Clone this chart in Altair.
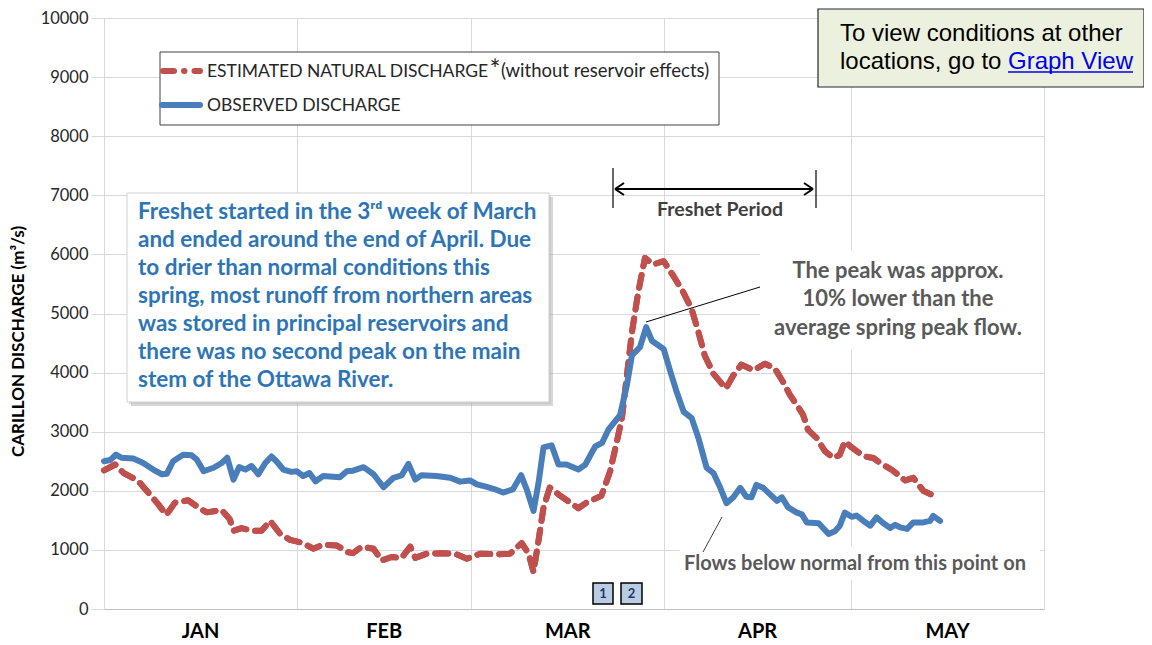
import altair as alt
import pandas as pd

# ---------------- data ----------------
# day = days since 1 January
obs_day = [0, 1, 1.9, 2.8, 4.7, 6.3, 7.9, 9.3, 10.1, 11.1, 12.7, 14.1, 14.9, 16, 17.6, 18.9, 19.8, 20.8, 21.7, 22.7,
           23.7, 24.8, 25.9, 26.9, 27.7, 28.8, 30.1, 31, 32, 33, 34, 35.2, 37.9, 39, 40, 41.7, 43.3, 44.9, 46.5, 47.8,
           48.9, 50, 51, 53.4, 55.6, 57.2, 58.8, 59.9, 61.5, 62.8, 64.1, 65.7, 67, 67.9, 69, 69.8, 70.6, 71.9, 73, 74.3,
           76.2, 77.3, 78.9, 80, 81, 82.9, 84, 84.8, 86.1, 87.1, 88, 89.9, 91, 92, 93.1, 94.4, 95.5, 96.8, 97.9, 99,
           100, 101.1, 102.2, 103.2, 104, 104.8, 105.9, 107, 108.1, 108.9, 109.9, 111.3, 112.1, 112.9, 114.8, 116.4,
           117.4, 118.2, 119, 120.1, 120.9, 122, 123.1, 124.1, 125.2, 126.3, 127.1, 127.9, 129, 130, 131.6, 132.7,
           133.2, 134.3]
obs_flow = [2500, 2520, 2610, 2560, 2545, 2470, 2360, 2280, 2290, 2500, 2610, 2600, 2530, 2330, 2390, 2470, 2560, 2190,
            2400, 2360, 2420, 2280, 2470, 2580, 2500, 2360, 2320, 2330, 2250, 2300, 2160, 2250, 2230, 2330, 2340, 2400,
            2280, 2060, 2220, 2260, 2455, 2190, 2265, 2250, 2220, 2155, 2175, 2110, 2065, 2025, 1970, 2025, 2265, 2025,
            1660, 2135, 2735, 2770, 2445, 2445, 2360, 2440, 2750, 2810, 3030, 3280, 3790, 4290, 4430, 4770, 4540, 4400,
            4010, 3670, 3340, 3230, 2890, 2390, 2300, 2050, 1790, 1890, 2050, 1900, 1890, 2100, 2050, 1940, 1830, 1890,
            1720, 1630, 1600, 1465, 1450, 1270, 1315, 1410, 1630, 1560, 1580, 1490, 1410, 1550, 1450, 1370, 1425, 1380,
            1355, 1465, 1465, 1490, 1575, 1490]

nat_day = [0, 1.8, 3.1, 5.5, 7.1, 8.7, 10, 11.4, 13.5, 15.2, 16.5, 18.9, 20.2, 20.8, 22.1, 23.7, 25.3, 26.7, 28.3, 29.9,
           32, 33.6, 35.2, 37.4, 39.2, 40, 41.4, 43.3, 44.6, 46.2, 47.8, 49.2, 50, 51.8, 54.2, 56.4, 58.3, 60.4, 63.1,
           65.2, 67.1, 68.2, 69, 69.8, 70.6, 71.6, 73.3, 74.9, 76.2, 77.5, 79.9, 81.3, 82.4, 83.2, 84, 84.8, 85.8, 86.9,
           88.2, 89.9, 91.5, 93.1, 94.4, 95.5, 96.5, 97.9, 99.9, 101.1, 102.4, 104.3, 106.2, 107.8, 109.1, 110.2, 111.3,
           112.3, 113.1, 114.5, 115.8, 117.2, 118.2, 119, 120.1, 122, 123.6, 124.9, 126.5, 128.7, 130, 131.6, 133.8]
nat_flow = [2345, 2445, 2305, 2165, 1970, 1775, 1590, 1800, 1840, 1715, 1635, 1675, 1520, 1325, 1370, 1325, 1325, 1490,
            1270, 1170, 1115, 1020, 1090, 1075, 960, 945, 1055, 1020, 820, 880, 865, 1055, 865, 935, 945, 935, 850, 935,
            925, 935, 1115, 935, 625, 1160, 1715, 2055, 1915, 1800, 1705, 1800, 1915, 2330, 2840, 3230, 3955, 4680,
            5350, 5940, 5830, 5885, 5630, 5350, 5075, 4680, 4290, 3980, 3730, 3955, 4135, 4040, 4150, 4065, 3840, 3620,
            3450, 3285, 3030, 2890, 2670, 2555, 2610, 2835, 2735, 2585, 2555, 2455, 2360, 2175, 2220, 2000, 1895]

months = ["JAN", "FEB", "MAR", "APR", "MAY"]
month_mid = [15.5, 45, 74.5, 105, 135.5]
month_edges = [0, 31, 59, 90, 120, 151]
y_ticks = list(range(0, 10001, 1000))

legend_est = "ESTIMATED NATURAL DISCHARGE"
legend_est_tail = "(without reservoir effects)"
legend_obs = "OBSERVED DISCHARGE"
freshet_lines = ["Freshet started in the 3ʳᵈ week of March",
                 "and ended around the end of April.  Due",
                 "to drier than normal conditions this",
                 "spring, most runoff from northern areas",
                 "was stored in principal reservoirs and",
                 "there was no second peak on the main",
                 "stem of the Ottawa River."]
peak_lines = ["The peak was approx.", "10% lower than the", "average spring peak flow."]
flows_text = "Flows below normal from this point on"
period_text = "Freshet Period"
link_lines = ["To view conditions at other", "locations, go to "]
link_text = "Graph View"

# ---------------- chart ----------------
TOP = 10           # plot top sits a little lower so the top tick label is not clipped
W, H = 940, 591
FONT = "Lato"
RED = "#C0504D"
BLUE = "#4A7EBB"
DASH = [13, 9]

obs = pd.DataFrame({"day": obs_day, "q": obs_flow})
nat = pd.DataFrame({"day": nat_day, "q": nat_flow})
mon = pd.DataFrame({"m": months, "day": month_mid})
one = pd.DataFrame({"k": [0]})

xs = alt.Scale(domain=[0, 151], nice=False, zero=False)
ys = alt.Scale(domain=[0, 10000], nice=False)

x_axis = alt.Axis(values=month_edges, labels=False, ticks=False, grid=True, gridColor="#D9D9D9",
                  domainColor="#BFBFBF", title=None)
y_axis = alt.Axis(values=y_ticks, format="d", grid=True, gridColor="#D9D9D9", tickColor="#D9D9D9", tickSize=13,
                  domainColor="#D9D9D9", labelFont=FONT, labelFontSize=16.5, labelColor="#262626", labelPadding=3,
                  title="CARILLON DISCHARGE (m³/s)", titleFont=FONT, titleFontSize=17, titleFontWeight="bold",
                  titleColor="#000000", titleX=-86, titleY=323, titleBaseline="middle")

X = alt.X("day:Q", scale=xs, axis=x_axis)
Y = alt.Y("q:Q", scale=ys, axis=y_axis)

# annotation positions are in pixels relative to the top-left of the reference plot area
OFF = 13 - 8 - TOP


def box(x1, x2, y1, y2, **kw):
    return alt.Chart(one).mark_rect(**kw).encode(x=alt.value(x1), x2=alt.value(x2),
                                                 y=alt.value(y1 + OFF), y2=alt.value(y2 + OFF))


def seg(x1, y1, x2, y2, **kw):
    return alt.Chart(one).mark_rule(**kw).encode(x=alt.value(x1), y=alt.value(y1 + OFF),
                                                 x2=alt.value(x2), y2=alt.value(y2 + OFF))


def txt(x, y, text, **kw):
    return alt.Chart(one).mark_text(text=text, **kw).encode(x=alt.value(x), y=alt.value(y + OFF))


nat_line = alt.Chart(nat).mark_line(color=RED, strokeWidth=6, strokeDash=DASH,
                                    strokeCap="round", strokeJoin="round").encode(x=X, y=Y)
obs_line = alt.Chart(obs).mark_line(color=BLUE, strokeWidth=6, strokeJoin="round", strokeCap="round").encode(x=X, y=Y)

month_text = alt.Chart(mon).mark_text(font=FONT, fontSize=20, fontWeight="bold", color="#000000",
                                      baseline="alphabetic").encode(x=X, y=alt.value(H + 29), text="m:N")

gray = "#595959"
layers = [
    nat_line,
    # white boxes behind annotations (hide grid)
    box(656, 940, 237, 337, fill="white"),
    box(576, 936, 534, 567, fill="white"),
    nat_line,
    obs_line,
    month_text,
    # legend
    box(56, 615, 39, 112, fill="white", stroke="#404040", strokeWidth=1),
    seg(59, 58, 96, 58, color=RED, strokeWidth=6, strokeDash=[11, 10, 0.5, 10], strokeCap="round"),
    seg(58, 92, 96, 92, color=BLUE, strokeWidth=6, strokeCap="round"),
    txt(103, 64, legend_est, font=FONT, fontSize=17.5, color="#262626", align="left", baseline="alphabetic"),
    txt(391, 66, "*", font=FONT, fontSize=26, color="#262626", align="center", baseline="alphabetic"),
    txt(397, 64, legend_est_tail, font=FONT, fontSize=18.5, color="#262626", align="left", baseline="alphabetic"),
    txt(103, 98, legend_obs, font=FONT, fontSize=17.5, color="#262626", align="left", baseline="alphabetic"),
    # freshet explanation box
    box(27, 449, 184, 393, fill="#A6A6A6", opacity=0.45),
    box(25, 447, 182, 391, fill="#BFBFBF", opacity=0.5),
    box(23, 445, 180, 389, fill="white", stroke="#D0D0D0", strokeWidth=1),
    txt(34, 206, freshet_lines, font=FONT, fontSize=22.5, fontWeight="bold", color="#2E75B6", align="left",
        baseline="alphabetic", lineHeight=27.95),
    # freshet period arrow
    seg(509, 155, 509, 195, color="#000000", strokeWidth=1.2),
    seg(712, 157, 712, 195, color="#000000", strokeWidth=1.2),
    seg(511, 176, 709, 176, color="#000000", strokeWidth=2),
    seg(511, 176, 520, 170, color="#000000", strokeWidth=2),
    seg(511, 176, 520, 182, color="#000000", strokeWidth=2),
    seg(709, 176, 700, 170, color="#000000", strokeWidth=2),
    seg(709, 176, 700, 182, color="#000000", strokeWidth=2),
    txt(616, 203, period_text, font=FONT, fontSize=19.5, fontWeight="bold", color="#404040", align="center",
        baseline="alphabetic"),
    # peak annotation
    seg(542, 309, 656, 274, color="#000000", strokeWidth=1),
    txt(794, 265, peak_lines, font=FONT, fontSize=22, fontWeight="bold", color=gray, align="center",
        baseline="alphabetic", lineHeight=28.3),
    # flows annotation
    seg(618, 504, 599, 539, color="#404040", strokeWidth=1),
    txt(751, 557, flows_text, font=FONT, fontSize=20, fontWeight="bold", color=gray, align="center",
        baseline="alphabetic"),
    # small numbered boxes
    box(489, 509, 570, 591, fill="#B8CCE4", stroke="#000000", strokeWidth=1.5),
    box(517, 538, 570, 591, fill="#B8CCE4", stroke="#000000", strokeWidth=1.5),
    txt(499, 585, "1", font=FONT, fontSize=13, fontWeight="bold", color="#1F3864", align="center",
        baseline="alphabetic"),
    txt(527.5, 585, "2", font=FONT, fontSize=13, fontWeight="bold", color="#1F3864", align="center",
        baseline="alphabetic"),
    # link box
    box(714, 1040, -4, 74, fill="#EBF1DE", stroke="#262626", strokeWidth=1.2),
    txt(736, 28, link_lines, font="Liberation Sans", fontSize=24, color="#000000", align="left",
        baseline="alphabetic", lineHeight=28.3),
    txt(904, 56.3, link_text, font="Liberation Sans", fontSize=24, color="#0000EE", align="left",
        baseline="alphabetic"),
    seg(904, 59, 1029, 59, color="#0000EE", strokeWidth=1.3),
]

chart = alt.layer(*layers).properties(
    width=W, height=H,
    padding={"left": 96, "top": TOP, "right": 100, "bottom": 34},
    autosize=alt.AutoSizeParams(type="none"),
).configure_view(stroke=None)

chart.save("out.html", embed_options={"renderer": "svg", "actions": False})
